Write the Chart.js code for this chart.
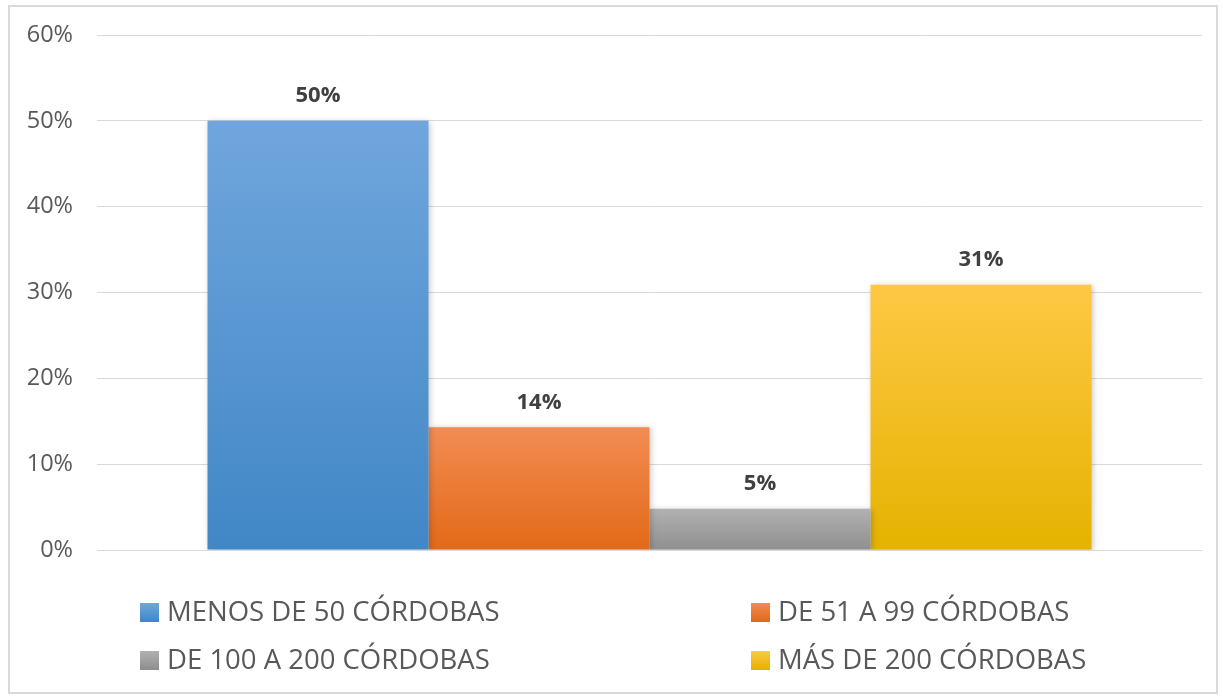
<!DOCTYPE html>
<html>
<head>
<meta charset="utf-8">
<script src="https://cdn.jsdelivr.net/npm/chart.js@4"></script>
<style>
  body { margin: 0; background: #ffffff; }
  #box { position: absolute; left: 8px; top: 5px; width: 1206px; height: 685px; border: 2px solid #d9d9d9; }
  canvas { display: block; }
</style>
</head>
<body>
<div id="box"><canvas id="grafico" width="1206" height="685"></canvas></div>
<script>
var categorias = ['MENOS DE 50 CÓRDOBAS', 'DE 51 A 99 CÓRDOBAS', 'DE 100 A 200 CÓRDOBAS', 'MÁS DE 200 CÓRDOBAS'];
var valores = [50, 14.3, 4.8, 30.9];
var etiquetas = ['50%', '14%', '5%', '31%'];
var ticksY = [0, 10, 20, 30, 40, 50, 60];
var coloresArriba = ['#70a6dd', '#f28c53', '#b1b1b1', '#ffc845'];
var coloresAbajo = ['#4187c6', '#e36918', '#8f8f8f', '#e4b300'];

var fuente = "'Open Sans', sans-serif";

function degradado(ctx, i, top, bottom) {
    var g = ctx.createLinearGradient(0, top, 0, bottom);
    g.addColorStop(0, coloresArriba[i]);
    g.addColorStop(1, coloresAbajo[i]);
    return g;
}

var datasets = [];
for (var i = 0; i < categorias.length; i++) {
    (function(i) {
        datasets.push({
            label: categorias[i],
            data: [valores[i]],
            backgroundColor: function(c) {
                var y = c.chart.scales.y;
                if (!c.chart.chartArea || !y) return coloresArriba[i];
                var top = y.getPixelForValue(valores[i]);
                var bottom = y.getPixelForValue(0);
                if (!isFinite(top) || !isFinite(bottom)) return coloresArriba[i];
                return degradado(c.chart.ctx, i, top, bottom);
            },
            borderWidth: 0
        });
    })(i);
}

// sombra suave de las barras
var sombra = {
    id: 'sombra',
    beforeDatasetsDraw: function(chart) {
        var ctx = chart.ctx;
        ctx.save();
        ctx.shadowColor = 'rgba(0,0,0,0.22)';
        ctx.shadowBlur = 6;
        ctx.shadowOffsetX = 1;
        ctx.shadowOffsetY = 1;
    },
    afterDatasetsDraw: function(chart) {
        chart.ctx.restore();
    }
};

// porcentajes sobre cada barra
var rotulos = {
    id: 'rotulos',
    afterDatasetsDraw: function(chart) {
        var ctx = chart.ctx;
        ctx.save();
        ctx.font = 'bold 22px ' + fuente;
        ctx.fillStyle = '#404040';
        ctx.textAlign = 'center';
        ctx.textBaseline = 'middle';
        for (var i = 0; i < chart.data.datasets.length; i++) {
            var bar = chart.getDatasetMeta(i).data[0];
            ctx.fillText(etiquetas[i], bar.x, bar.y - 25);
        }
        ctx.restore();
    }
};

// leyenda en dos columnas
var leyenda = {
    id: 'leyenda',
    afterDraw: function(chart) {
        var ctx = chart.ctx;
        var cols = [130, 741];
        var filas = [605, 653];
        ctx.save();
        ctx.font = '27.5px ' + fuente;
        ctx.textBaseline = 'middle';
        for (var i = 0; i < chart.data.datasets.length; i++) {
            var x = cols[i % 2];
            var y = filas[Math.floor(i / 2)];
            ctx.fillStyle = degradado(ctx, i, y - 9, y + 9);
            ctx.fillRect(x, y - 9, 19, 19);
            ctx.fillStyle = '#595959';
            ctx.fillText(chart.data.datasets[i].label, x + 27, y + 1);
        }
        ctx.restore();
    }
};

new Chart(document.getElementById('grafico'), {
    type: 'bar',
    data: {
        labels: [''],
        datasets: datasets
    },
    plugins: [sombra, rotulos, leyenda],
    options: {
        responsive: false,
        animation: false,
        layout: { padding: { top: 28, right: 14, bottom: 142, left: 0 } },
        datasets: { bar: { categoryPercentage: 0.8, barPercentage: 1 } },
        plugins: {
            legend: { display: false },
            tooltip: { enabled: false }
        },
        scales: {
            x: { display: false },
            y: {
                min: 0,
                max: 60,
                afterFit: function(s) {
                    s.width = 87;
                    s.paddingTop = 0;
                    s.paddingBottom = 0;
                },
                afterBuildTicks: function(s) {
                    s.ticks = ticksY.map(function(v) { return { value: v }; });
                },
                border: { display: false },
                grid: { color: '#d9d9d9', lineWidth: 1, drawTicks: false },
                ticks: {
                    padding: 24,
                    color: '#595959',
                    font: { family: fuente, size: 23.5 },
                    callback: function(v) { return v + '%'; }
                }
            }
        }
    }
});
</script>
</body>
</html>
